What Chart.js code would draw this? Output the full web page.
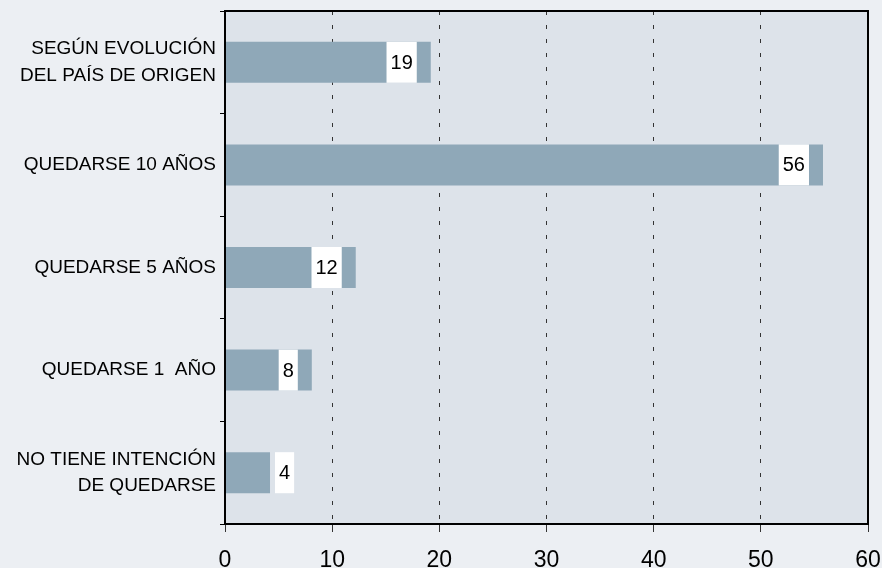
<!DOCTYPE html>
<html>
<head>
<meta charset="utf-8">
<script src="https://cdn.jsdelivr.net/npm/chart.js@4"></script>
<style>
  html, body { margin: 0; padding: 0; background: #eceff3; }
  #wrap { width: 882px; height: 568px; }
</style>
</head>
<body>
<div id="wrap"><canvas id="chart" width="882" height="568"></canvas></div>
<script>
'use strict';

var categories = [
  ['SEGÚN EVOLUCIÓN', 'DEL PAÍS DE ORIGEN'],
  'QUEDARSE 10 AÑOS',
  'QUEDARSE 5 AÑOS',
  'QUEDARSE 1  AÑO',
  ['NO TIENE INTENCIÓN', 'DE QUEDARSE']
];
var values = [19.2, 55.8, 12.2, 8.1, 4.2];
var valueLabels = ['19', '56', '12', '8', '4'];
var xTicks = [0, 10, 20, 30, 40, 50, 60];

var FONT = '"Liberation Sans", Arial, Helvetica, sans-serif';

// plot background + frame + value boxes
var frame = {
  id: 'frame',
  beforeDraw: function (chart) {
    var ctx = chart.ctx, a = chart.chartArea;
    ctx.save();
    ctx.fillStyle = '#eceff3';
    ctx.fillRect(0, 0, chart.width, chart.height);
    ctx.fillStyle = '#dde3ea';
    ctx.fillRect(a.left, a.top, a.right - a.left, a.bottom - a.top);
    ctx.restore();
  },
  afterDatasetsDraw: function (chart) {
    var ctx = chart.ctx;
    var meta = chart.getDatasetMeta(0);
    var base = chart.scales.x.getPixelForValue(0);
    ctx.save();
    ctx.font = '20px ' + FONT;
    ctx.textAlign = 'center';
    ctx.textBaseline = 'middle';
    meta.data.forEach(function (bar, i) {
      var txt = valueLabels[i];
      var w = ctx.measureText(txt).width + 8;
      var h = bar.height;
      var right = bar.x - 14;
      var left = right - w;
      if (bar.x - base < w + 30) { left = bar.x + 5; }
      ctx.fillStyle = '#ffffff';
      ctx.fillRect(left, bar.y - h / 2, w, h);
      ctx.fillStyle = '#000000';
      ctx.fillText(txt, left + w / 2, bar.y + 1);
    });
    ctx.restore();
  },
  afterDraw: function (chart) {
    var ctx = chart.ctx, a = chart.chartArea;
    ctx.save();
    ctx.strokeStyle = '#000000';
    ctx.lineWidth = 2;
    ctx.strokeRect(a.left, a.top, a.right - a.left, a.bottom - a.top);
    ctx.restore();
  }
};

var chart = new Chart(document.getElementById('chart').getContext('2d'), {
  type: 'bar',
  data: {
    labels: categories,
    datasets: [{
      data: values,
      backgroundColor: '#8fa8b8',
      borderWidth: 0,
      barPercentage: 0.4,
      categoryPercentage: 1.0
    }]
  },
  plugins: [frame],
  options: {
    indexAxis: 'y',
    responsive: false,
    animation: false,
    layout: { padding: { top: 11, right: 14, left: 0, bottom: 0 } },
    plugins: {
      legend: { display: false },
      tooltip: { enabled: false }
    },
    scales: {
      x: {
        min: 0,
        max: 60,
        afterBuildTicks: function (scale) {
          scale.ticks = xTicks.map(function (v) { return { value: v }; });
        },
        afterFit: function (scale) {
          scale.height = 44;
          scale.paddingLeft = 0;
          scale.paddingRight = 0;
        },
        border: { display: false, dash: [4, 10] },
        grid: {
          color: '#333333',
          lineWidth: 1,
          tickBorderDash: [],
          tickLength: 8,
          tickColor: '#333333'
        },
        ticks: {
          color: '#000000',
          font: { family: FONT, size: 23 },
          padding: 15,
          maxRotation: 0
        }
      },
      y: {
        afterFit: function (scale) {
          scale.width = 225;
          scale.paddingTop = 0;
          scale.paddingBottom = 0;
        },
        border: { display: false },
        grid: {
          offset: true,
          drawOnChartArea: false,
          tickLength: 5,
          tickColor: '#000000'
        },
        ticks: {
          color: '#000000',
          font: { family: FONT, size: 19, lineHeight: 1.38 },
          padding: 4
        }
      }
    }
  }
});
</script>
</body>
</html>
